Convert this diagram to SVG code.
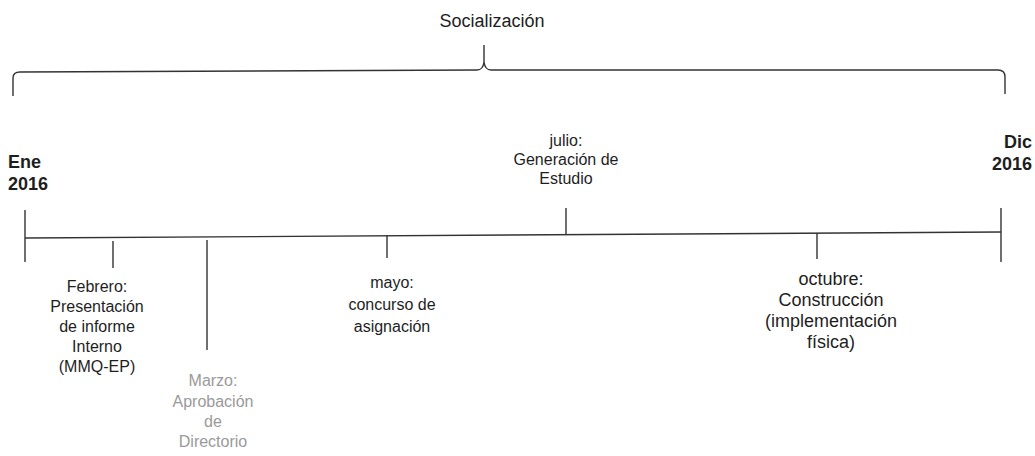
<svg xmlns="http://www.w3.org/2000/svg" width="1035" height="456" viewBox="0 0 1035 456">
<style>
.t{font-family:"Liberation Sans",Arial,sans-serif;font-size:16px;fill:#1e1e1e;text-anchor:middle}
.b{font-weight:bold;font-size:18px;text-anchor:start}
.e{text-anchor:end}
.s{font-size:18px}
.o{font-size:18px}
.g{fill:#9a9a9a}
.ln{stroke:#333;stroke-width:1.4;fill:none}
</style>
<rect width="1035" height="456" fill="#fff"/>
<g id="title"><text class="t s" x="492" y="27">Socialización</text></g>
<g id="connectors">
<path class="ln" d="M13,96 L13,78 Q13,72 20,72 L477,70 Q483,70 484,62 L484,45 M484,62 Q485,70 491,70 L998,70 Q1005,70 1005,77 L1005,94"/>
<line class="ln" x1="25" y1="238" x2="1001" y2="232"/>
<line class="ln" x1="25" y1="210" x2="25" y2="262"/>
<line class="ln" x1="1001" y1="208" x2="1001" y2="262"/>
<line class="ln" x1="113" y1="241" x2="113" y2="268"/>
<line class="ln" x1="207" y1="240" x2="207" y2="350"/>
<line class="ln" x1="387" y1="235" x2="387" y2="258"/>
<line class="ln" x1="566" y1="208" x2="566" y2="234"/>
<line class="ln" x1="817" y1="233" x2="817" y2="259"/>
</g>
<g id="ene"><text class="t b" x="8" y="168">Ene</text><text class="t b" x="8" y="190">2016</text></g>
<g id="dic"><text class="t b e" x="1032" y="148">Dic</text><text class="t b e" x="1032" y="170">2016</text></g>
<g id="julio"><text class="t" x="566" y="146">julio:</text><text class="t" x="566" y="165">Generación de</text><text class="t" x="566" y="184">Estudio</text></g>
<g id="febrero"><text class="t" x="97" y="292">Febrero:</text><text class="t" x="97" y="312">Presentación</text><text class="t" x="97" y="332">de informe</text><text class="t" x="97" y="352">Interno</text><text class="t" x="97" y="372">(MMQ-EP)</text></g>
<g id="marzo"><text class="t g" x="213" y="386">Marzo:</text><text class="t g" x="213" y="407">Aprobación</text><text class="t g" x="213" y="427">de</text><text class="t g" x="213" y="447">Directorio</text></g>
<g id="mayo"><text class="t" x="392" y="288">mayo:</text><text class="t" x="392" y="310">concurso de</text><text class="t" x="392" y="332">asignación</text></g>
<g id="octubre"><text class="t o" x="831" y="285">octubre:</text><text class="t o" x="831" y="306">Construcción</text><text class="t o" x="831" y="327">(implementación</text><text class="t o" x="831" y="348">física)</text></g>
</svg>
